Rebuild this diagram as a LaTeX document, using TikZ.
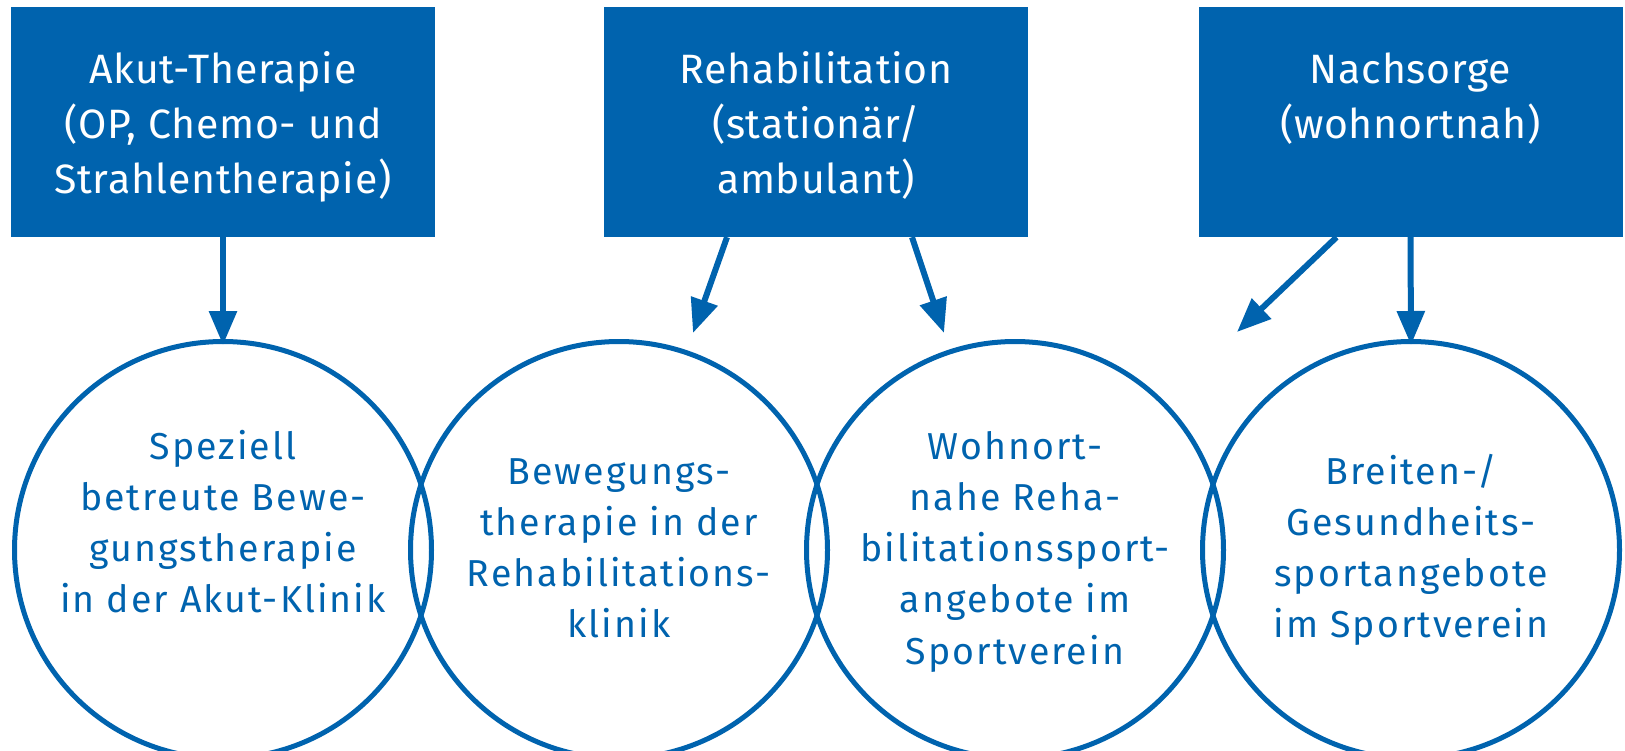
\documentclass[tikz,border=0pt]{standalone}
\usepackage{fontspec}
\setmainfont{Fira Sans}
\newfontfamily\boxfont[LetterSpace=1.8]{Fira Sans}
\newfontfamily\ringfont[LetterSpace=5.5]{Fira Sans}
\usetikzlibrary{arrows.meta}
\definecolor{dblue}{HTML}{0063AE}
\tikzset{
  phasebox/.style={fill=dblue, draw=none, rectangle, minimum width=424pt, minimum height=230pt, inner sep=0pt},
  boxtext/.style={anchor=base, inner sep=0pt, text=white, font=\boxfont\fontsize{41}{55}\selectfont},
  ring/.style={circle, draw=dblue, line width=5pt, minimum size=417pt, inner sep=0pt},
  ringtext/.style={anchor=base, inner sep=0pt, text=dblue, font=\ringfont\fontsize{37.5}{51.3}\selectfont},
  flow/.style={draw=dblue, line width=6pt, -{Triangle[length=34pt,width=27pt]}},
}
\newcommand{\lines}[1]{\setlength{\tabcolsep}{0pt}\begin{tabular}[t]{c}#1\end{tabular}}
\begin{document}
\begin{tikzpicture}[x=1pt,y=-1pt]
\useasboundingbox (0,0) rectangle (1625,750);
\clip (0,0) rectangle (1625,750);
% boxes
\node[phasebox] (b1) at (223,122) {};
\node[phasebox] (b2) at (816,122) {};
\node[phasebox] (b3) at (1410.5,122) {};
\node[boxtext] (t1) at (223,83) {\lines{Akut-Therapie\\(OP, Chemo- und\\Strahlentherapie)}};
\node[boxtext] (t2) at (816,83) {\lines{Rehabilitation\\(stationär/\\ambulant)}};
\node[boxtext] (t3) at (1410.5,83) {\lines{Nachsorge\\(wohnortnah)}};
% circles
\node[ring] (c1) at (223,550) {};
\node[ring] (c2) at (619,550) {};
\node[ring] (c3) at (1015,550) {};
\node[ring] (c4) at (1411,550) {};
\node[ringtext] (s1) at (223,459) {\lines{Speziell\\betreute Bewe-\\gungstherapie\\in der Akut-Klinik}};
\node[ringtext] (s2) at (619,484) {\lines{Bewegungs-\\therapie in der\\Rehabilitations-\\klinik}};
\node[ringtext] (s3) at (1015,459) {\lines{Wohnort-\\nahe Reha-\\bilitationssport-\\angebote im\\Sportverein}};
\node[ringtext] (s4) at (1411,484) {\lines{Breiten-/\\Gesundheits-\\sportangebote\\im Sportverein}};
% arrow tips
\coordinate (p2) at (693,333);
\coordinate (p3) at (944,333);
\coordinate (p4) at (1237,332);
% arrows
\draw[flow] (b1.south) -- ([yshift=-6pt]c1.north);
\draw[flow] ([xshift=-89pt]b2.south) -- (p2);
\draw[flow] ([xshift=96pt]b2.south) -- (p3);
\draw[flow] ([xshift=-74pt]b3.south) -- (p4);
\draw[flow] (b3.south) -- ([yshift=-6pt]c4.north);
\end{tikzpicture}
\end{document}
